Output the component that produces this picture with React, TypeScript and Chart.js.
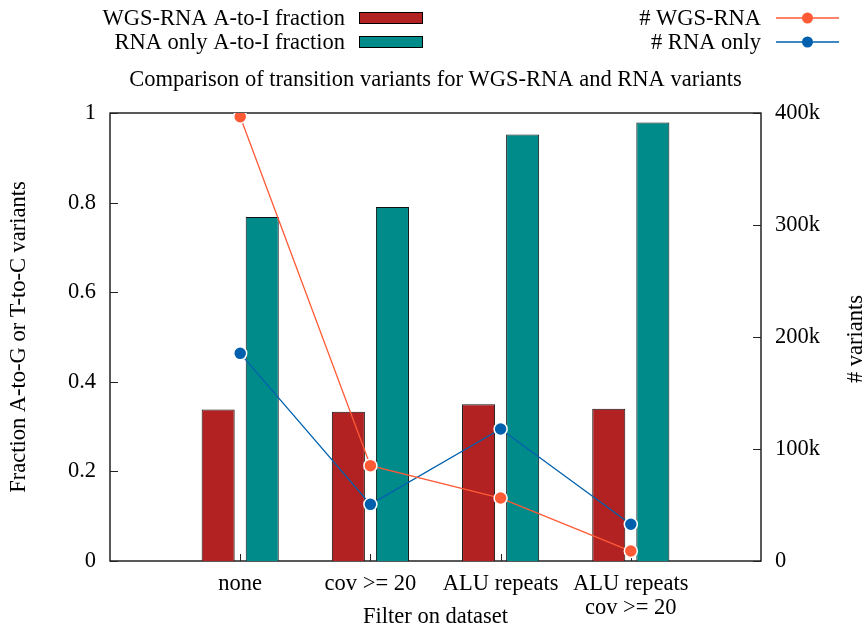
import React, { useEffect, useRef } from 'react';
import { Chart, registerables } from 'chart.js';

Chart.register(...registerables);

// ---- data ----
const categories: (string | string[])[] = ['none', 'cov >= 20', 'ALU repeats', ['ALU repeats', 'cov >= 20']];
const wgsRnaFraction = [0.338, 0.333, 0.35, 0.34];
const rnaOnlyFraction = [0.768, 0.79, 0.952, 0.979];
const wgsRnaCount = [396700, 85100, 56200, 8900];
const rnaOnlyCount = [185400, 50600, 117900, 32800];
const leftTickValues = [0, 0.2, 0.4, 0.6, 0.8, 1];
const rightTickValues = [0, 100000, 200000, 300000, 400000];

const chartTitle = 'Comparison of transition variants for WGS-RNA and RNA variants';
const xTitle = 'Filter on dataset';
const yTitle = 'Fraction A-to-G or T-to-C variants';
const y2Title = '# variants';

const FONT = "'Liberation Serif', 'Times New Roman', serif";
const FS = 22.5;

const RED = '#b22222';
const TEAL = '#008b8b';
const ORANGE = '#ff5a36';
const BLUE = '#0060ad';

const decorPlugin = {
  id: 'decor',
  beforeDatasetsDraw(chart: any) {
    const { ctx, chartArea: a, scales } = chart;
    ctx.save();
    ctx.strokeStyle = '#000';
    ctx.lineWidth = 1.3;
    ctx.strokeRect(a.left, a.top, a.right - a.left, a.bottom - a.top);
    ctx.lineWidth = 1;
    ctx.strokeStyle = '#222';
    ctx.beginPath();
    for (const v of leftTickValues) {
      const y = Math.round(scales.y.getPixelForValue(v)) + 0.5;
      ctx.moveTo(a.left, y);
      ctx.lineTo(a.left + 8, y);
    }
    for (const v of rightTickValues) {
      const y = Math.round(scales.y2.getPixelForValue(v)) + 0.5;
      ctx.moveTo(a.right, y);
      ctx.lineTo(a.right - 8, y);
    }
    categories.forEach((_, i) => {
      const x = Math.round(scales.x.getPixelForValue(i)) + 0.5;
      ctx.moveTo(x, a.bottom);
      ctx.lineTo(x, a.bottom - 7);
    });
    ctx.stroke();
    ctx.restore();
  },
  afterDraw(chart: any) {
    const { ctx, chartArea: a } = chart;
    const ds = chart.data.datasets;
    ctx.save();
    ctx.fillStyle = '#000';
    ctx.font = `${FS}px ${FONT}`;
    ctx.textBaseline = 'alphabetic';
    // legend left column (bars)
    const rows = [25, 49];
    const barDs = [ds[2], ds[3]];
    barDs.forEach((d: any, i: number) => {
      ctx.fillStyle = '#000';
      ctx.textAlign = 'right';
      ctx.fillText(d.label, 345, rows[i]);
      const cy = rows[i] - 7;
      ctx.fillStyle = d.backgroundColor;
      ctx.fillRect(359, cy - 6, 64, 12);
      ctx.strokeStyle = '#000';
      ctx.lineWidth = 1;
      ctx.strokeRect(359.5, cy - 5.5, 63, 11);
    });
    // legend right column (lines)
    const lineDs = [ds[0], ds[1]];
    lineDs.forEach((d: any, i: number) => {
      ctx.fillStyle = '#000';
      ctx.textAlign = 'right';
      ctx.fillText(d.label, 761, rows[i]);
      const cy = rows[i] - 7;
      ctx.strokeStyle = d.borderColor;
      ctx.lineWidth = 1.3;
      ctx.beginPath();
      ctx.moveTo(776, cy);
      ctx.lineTo(839, cy);
      ctx.stroke();
      ctx.beginPath();
      ctx.arc(807.5, cy, 5.5, 0, Math.PI * 2);
      ctx.fillStyle = d.borderColor;
      ctx.fill();
    });
    // title
    ctx.fillStyle = '#000';
    ctx.textAlign = 'center';
    const cx = (a.left + a.right) / 2;
    ctx.fillText(chartTitle, cx, 86);
    // x title
    ctx.fillText(xTitle, cx, 623);
    // y titles
    const cyMid = (a.top + a.bottom) / 2;
    ctx.save();
    ctx.translate(25, cyMid);
    ctx.rotate(-Math.PI / 2);
    ctx.fillText(yTitle, 0, 0);
    ctx.restore();
    ctx.save();
    ctx.translate(862, cyMid + 2);
    ctx.rotate(-Math.PI / 2);
    ctx.fillText(y2Title, 0, 0);
    ctx.restore();
    ctx.restore();
  },
};

export default function App() {
  const ref = useRef<HTMLCanvasElement>(null);
  useEffect(() => {
    Chart.defaults.font.family = FONT;
    Chart.defaults.font.size = FS;
    Chart.defaults.color = '#000';
    const chart = new Chart(ref.current as HTMLCanvasElement, {
      type: 'bar',
      data: {
        datasets: [
          {
            type: 'line',
            label: '# WGS-RNA',
            data: wgsRnaCount.map((v, i) => ({ x: i, y: v })),
            yAxisID: 'y2',
            borderColor: ORANGE,
            backgroundColor: ORANGE,
            borderWidth: 1.3,
            pointRadius: 6.5,
            pointBorderWidth: 1.5,
            pointBorderColor: '#fff',
            pointBackgroundColor: ORANGE,
            order: 0,
          } as any,
          {
            type: 'line',
            label: '# RNA only',
            data: rnaOnlyCount.map((v, i) => ({ x: i, y: v })),
            yAxisID: 'y2',
            borderColor: BLUE,
            backgroundColor: BLUE,
            borderWidth: 1.3,
            pointRadius: 6.5,
            pointBorderWidth: 1.5,
            pointBorderColor: '#fff',
            pointBackgroundColor: BLUE,
            order: 1,
          } as any,
          {
            type: 'bar',
            label: 'WGS-RNA A-to-I fraction',
            data: wgsRnaFraction.map((v, i) => ({ x: i, y: v })),
            yAxisID: 'y',
            backgroundColor: RED,
            borderColor: '#111',
            borderWidth: 1,
            categoryPercentage: 0.677,
            barPercentage: 0.75,
            order: 2,
          } as any,
          {
            type: 'bar',
            label: 'RNA only A-to-I fraction',
            data: rnaOnlyFraction.map((v, i) => ({ x: i, y: v })),
            yAxisID: 'y',
            backgroundColor: TEAL,
            borderColor: '#111',
            borderWidth: 1,
            categoryPercentage: 0.677,
            barPercentage: 0.75,
            order: 3,
          } as any,
        ],
      },
      options: {
        responsive: false,
        animation: false,
        devicePixelRatio: 1,
        layout: { padding: { top: 113, left: 0, right: 0, bottom: 0 } },
        plugins: {
          legend: { display: false },
          title: { display: false },
          tooltip: { enabled: false },
        },
        scales: {
          x: {
            type: 'linear',
            min: -1,
            max: 4,
            offset: false,
            grid: { display: false, drawTicks: false, offset: false },
            border: { display: false },
            ticks: {
              stepSize: 1,
              autoSkip: false,
              maxRotation: 0,
              minRotation: 0,
              padding: 10.5,
              font: { size: FS, lineHeight: 1.08 },
              callback: (v: any) => {
                const i = Math.round(Number(v));
                return categories[i] !== undefined && Math.abs(Number(v) - i) < 1e-6 ? categories[i] : '';
              },
            },
            afterFit: (s: any) => {
              s.height = 66;
            },
          },
          y: {
            type: 'linear',
            position: 'left',
            min: 0,
            max: 1,
            grid: { display: false, drawTicks: false },
            border: { display: false },
            ticks: {
              stepSize: 0.2,
              padding: 14,
              callback: (v: any) => String(Math.round(Number(v) * 10) / 10),
            },
            afterFit: (s: any) => {
              s.width = 110;
            },
          },
          y2: {
            type: 'linear',
            position: 'right',
            min: 0,
            max: 400000,
            grid: { display: false, drawTicks: false },
            border: { display: false },
            ticks: {
              stepSize: 100000,
              padding: 14,
              callback: (v: any) => (Number(v) === 0 ? '0' : `${Math.round(Number(v) / 1000)}k`),
            },
            afterFit: (s: any) => {
              s.width = 103;
            },
          },
        },
      } as any,
      plugins: [decorPlugin],
    });
    return () => chart.destroy();
  }, []);
  return (
    <div style={{ position: 'absolute', left: 0, top: 0, width: 864, height: 627, background: '#fff' }}>
      <canvas ref={ref} width={864} height={627} style={{ display: 'block', width: 864, height: 627 }} />
    </div>
  );
}
